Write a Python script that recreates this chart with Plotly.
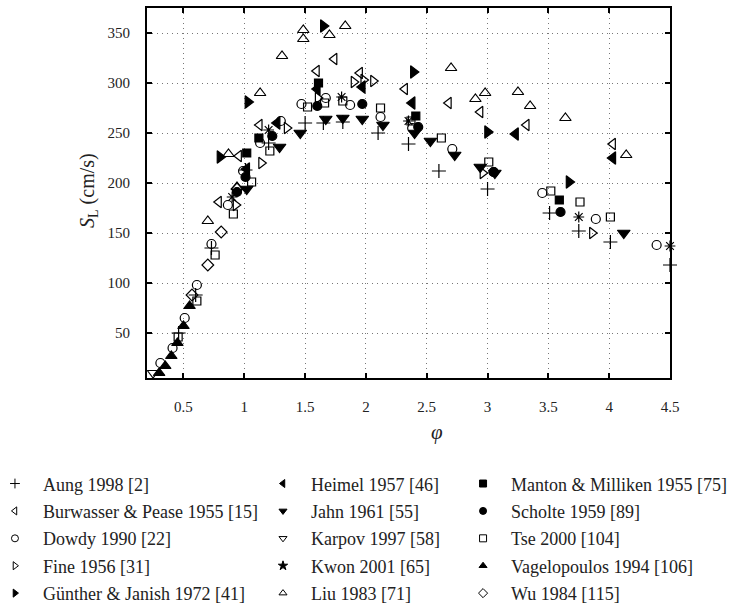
import plotly.graph_objects as go

# ---------------- data (phi, S_L in cm/s) ----------------
aung_x = [0.46, 0.60, 0.73, 1.01, 1.20, 1.50, 1.65, 1.81, 2.10, 2.35, 2.60, 3.00, 3.51, 3.75, 4.01, 4.50]
aung_y = [50, 88, 135, 213, 240, 260, 260, 261, 250, 239, 212, 194, 170, 152, 141, 118]

burw_x = [0.79, 0.955, 1.125, 1.595, 1.74, 1.95, 2.32, 2.68, 2.94, 3.32, 4.03]
burw_y = [181, 227, 258, 312, 324, 310, 294, 280, 271, 258, 239]

dowdy_x = [0.31, 0.41, 0.51, 0.61, 0.73, 0.865, 0.99, 1.13, 1.30, 1.47, 1.67, 1.87, 2.12, 2.38, 2.71, 3.05, 3.45, 3.89, 4.39]
dowdy_y = [20, 35, 65, 98, 139, 178, 212, 240, 262, 279, 285, 278, 266, 255, 234, 211, 190, 164, 138]

fine_x = [0.93, 1.14, 1.35, 1.605, 1.90, 1.98, 2.06, 2.96, 3.86]
fine_y = [178, 220, 255, 285, 301, 303, 302, 210, 150]

gunther_x = [0.80, 1.03, 1.65, 2.39, 3.00, 3.67]
gunther_y = [226, 281, 357, 311, 251, 201]

heimel_x = [1.02, 1.27, 1.60, 1.97, 2.38, 3.23, 4.03]
heimel_y = [214, 260, 294, 296, 280, 249, 225]

jahn_x = [1.02, 1.29, 1.46, 1.67, 1.81, 1.97, 2.14, 2.40, 2.53, 2.73, 2.94, 3.06, 4.12]
jahn_y = [194, 236, 250, 264, 265, 264, 258, 250, 242, 228, 216, 210, 150]

karpov_x = [0.25]
karpov_y = [10]

kwon_x = [0.90, 1.20, 1.80, 2.35, 3.75, 4.50]
kwon_y = [186, 253, 286, 262, 166, 137]

liu_x = [0.70, 0.87, 0.94, 1.13, 1.31, 1.485, 1.485, 1.70, 1.83, 2.70, 2.90, 2.98, 3.25, 3.35, 3.64, 4.14]
liu_y = [162, 229, 196, 290, 327, 353, 344, 348, 357, 315, 284, 290, 291, 277, 265, 228]

manton_x = [1.02, 1.12, 1.61, 2.41, 3.59]
manton_y = [230, 245, 300, 267, 183]

scholte_x = [0.94, 1.01, 1.23, 1.60, 1.97, 2.43, 3.05, 3.60]
scholte_y = [191, 206, 247, 277, 279, 256, 211, 171]

tse_x = [0.456, 0.61, 0.76, 0.91, 1.06, 1.21, 1.52, 1.66, 1.81, 2.12, 2.37, 2.62, 3.01, 3.52, 3.76, 4.01]
tse_y = [46, 82, 128, 169, 201, 232, 276, 280, 282, 275, 262, 245, 221, 192, 181, 166]

vagel_x = [0.30, 0.35, 0.40, 0.45, 0.50, 0.55]
vagel_y = [10, 17, 27, 40, 57, 77]

wu_x = [0.57, 0.70, 0.81, 0.94]
wu_y = [88, 118, 151, 194]

labels = [
    "Aung 1998 [2]", "Burwasser &amp; Pease 1955 [15]", "Dowdy 1990 [22]",
    "Fine 1956 [31]", "Günther &amp; Janish 1972 [41]",
    "Heimel 1957 [46]", "Jahn 1961 [55]", "Karpov 1997 [58]", "Kwon 2001 [65]",
    "Liu 1983 [71]",
    "Manton &amp; Milliken 1955 [75]", "Scholte 1959 [89]", "Tse 2000 [104]",
    "Vagelopoulos 1994 [106]", "Wu 1984 [115]",
]
xs = [aung_x, burw_x, dowdy_x, fine_x, gunther_x, heimel_x, jahn_x, karpov_x,
      kwon_x, liu_x, manton_x, scholte_x, tse_x, vagel_x, wu_x]
ys = [aung_y, burw_y, dowdy_y, fine_y, gunther_y, heimel_y, jahn_y, karpov_y,
      kwon_y, liu_y, manton_y, scholte_y, tse_y, vagel_y, wu_y]

x_ticks = [0.5, 1, 1.5, 2, 2.5, 3, 3.5, 4, 4.5]
x_tick_text = ["0.5", "1", "1.5", "2", "2.5", "3", "3.5", "4", "4.5"]
y_ticks = [50, 100, 150, 200, 250, 300, 350]

# ---------------- styles ----------------
symbols = ["cross-thin-open", "triangle-left-open", "circle-open", "triangle-right-open",
           "triangle-right", "triangle-left", "triangle-down", "triangle-down-open",
           "asterisk-open", "triangle-up-open", "square", "circle", "square-open",
           "triangle-up", "diamond-open"]
legend_symbols = ["cross-thin-open", "triangle-left-open", "circle-open", "triangle-right-open",
                  "triangle-right", "triangle-left", "triangle-down", "triangle-down-open",
                  "star", "triangle-up-open", "square", "circle", "square-open",
                  "triangle-up", "diamond-open"]
sizes = [10, 10, 9, 10, 11, 11, 11, 10, 9, 10, 8, 9, 8, 10, 9]
legend_ids = ["legend"] * 5 + ["legend2"] * 5 + ["legend3"] * 5

fig = go.Figure()
for i in range(len(labels)):
    fig.add_trace(go.Scatter(
        x=xs[i], y=ys[i], mode="markers", showlegend=False, cliponaxis=False,
        marker=dict(symbol=symbols[i], size=sizes[i], color="black",
                    line=dict(color="black", width=1.2)),
        name=labels[i]))
for i in range(len(labels)):
    fig.add_trace(go.Scatter(
        x=[None], y=[None], mode="markers", showlegend=True, legend=legend_ids[i],
        legendgroup="g%d" % i,
        marker=dict(symbol=legend_symbols[i], size=7, color="black",
                    line=dict(color="black", width=1)),
        name=labels[i]))

serif = "Liberation Serif, DejaVu Serif, serif"
tick_font = dict(family=serif, size=15, color="#222")
leg_font = dict(family=serif, size=18, color="#222")

common_axis = dict(showline=True, linecolor="black", linewidth=2, mirror="ticks",
                   ticks="inside", ticklen=5, tickwidth=1.5, tickcolor="black",
                   showgrid=True, gridcolor="#777", griddash="1px,4px", gridwidth=1,
                   zeroline=False, tickfont=tick_font)

fig.update_xaxes(range=[0.2, 4.5], tickvals=x_ticks, ticktext=x_tick_text,
                 ticklabelstandoff=14, **common_axis)
fig.update_yaxes(range=[5, 375], tickvals=y_ticks, ticklabelstandoff=12, **common_axis)

leg_common = dict(font=leg_font, bgcolor="rgba(0,0,0,0)", yanchor="top", xanchor="left",
                  orientation="v", tracegroupgap=1, itemclick=False, itemwidth=46)
fig.update_layout(
    width=735, height=610,
    margin=dict(l=147, r=65, t=8, b=232, autoexpand=False),
    paper_bgcolor="white", plot_bgcolor="white",
    legend=dict(x=-0.306, y=-0.236, **leg_common),
    legend2=dict(x=0.2065, y=-0.236, **leg_common),
    legend3=dict(x=0.589, y=-0.236, **leg_common),
    annotations=[
        dict(text="<i>S</i><sub>L</sub> (cm/s)", xref="paper", yref="paper",
             x=-0.113, y=0.508, xanchor="center", yanchor="middle",
             textangle=-90, showarrow=False,
             font=dict(family=serif, size=20, color="#222")),
        dict(text="<i>φ</i>", xref="paper", yref="paper", x=0.5545, y=-0.146,
             xanchor="center", yanchor="middle", showarrow=False,
             font=dict(family=serif, size=21, color="#222")),
    ],
)

fig.write_html("out.html")
